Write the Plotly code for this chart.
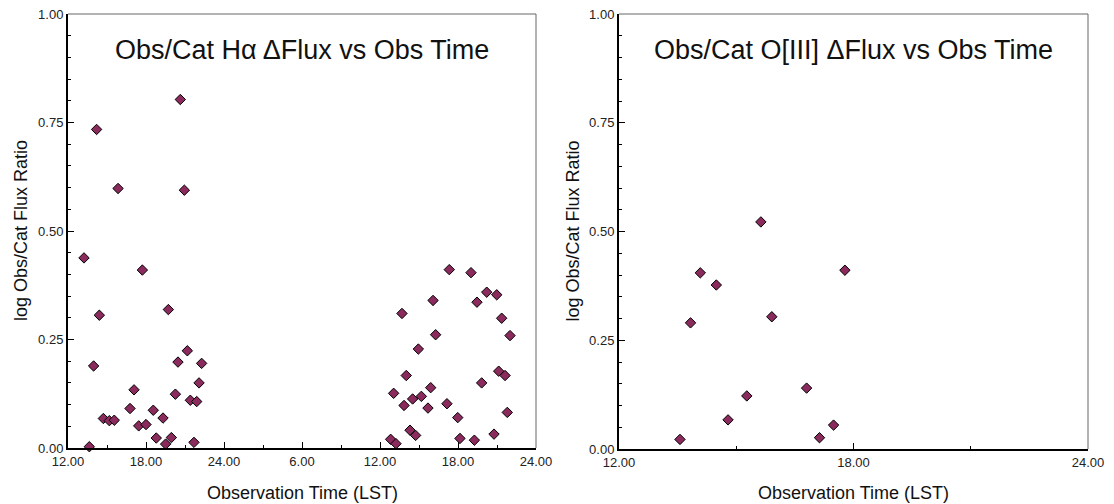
import plotly.graph_objects as go

# Left panel: H-alpha, observation time in hours over two nights (12..48 -> 12:00 day1 .. 24:00 day2)
ha_time = [14.2, 20.64, 15.85, 20.95, 13.23, 17.72, 19.72, 14.41, 21.18, 20.46,
           22.28, 13.97, 22.08, 17.08, 20.26, 21.41, 21.9, 16.77, 18.56, 14.72,
           19.31, 15.18, 15.56, 17.44, 18.0, 18.79, 19.95, 19.51, 21.69, 13.64,
           41.33, 43.0, 44.21, 44.98, 40.08, 43.46, 37.69, 45.36, 40.28, 46.0,
           38.95, 38.02, 45.13, 45.62, 43.82, 39.9, 37.05, 39.18, 38.51, 37.85,
           39.69, 41.15, 45.79, 41.98, 38.31, 38.74, 44.77, 36.82, 37.23, 42.15,
           43.26]
ha_ratio = [0.734, 0.803, 0.598, 0.594, 0.438, 0.410, 0.319, 0.306, 0.224, 0.198,
            0.195, 0.189, 0.150, 0.134, 0.124, 0.110, 0.107, 0.091, 0.087, 0.068,
            0.069, 0.063, 0.064, 0.051, 0.054, 0.023, 0.024, 0.009, 0.013, 0.003,
            0.411, 0.404, 0.359, 0.353, 0.340, 0.336, 0.310, 0.299, 0.261, 0.259,
            0.228, 0.167, 0.177, 0.167, 0.150, 0.139, 0.126, 0.119, 0.113, 0.098,
            0.092, 0.102, 0.082, 0.070, 0.041, 0.029, 0.032, 0.020, 0.010, 0.022,
            0.018]

# Right panel: O[III]
o3_time = [15.63, 14.08, 14.49, 13.83, 15.91, 16.8, 15.27, 14.79, 17.49, 17.13, 13.56, 17.78]
o3_ratio = [0.522, 0.405, 0.377, 0.290, 0.304, 0.140, 0.122, 0.067, 0.055, 0.026, 0.022, 0.411]

left_tickvals = [12, 18, 24, 30, 36, 42, 48]
left_ticktext = ["12.00", "18.00", "24.00", "6.00", "12.00", "18.00", "24.00"]
right_tickvals = [12, 18, 24]
right_ticktext = ["12.00", "18.00", "24.00"]
y_tickvals = [0, 0.25, 0.5, 0.75, 1.0]
y_ticktext = ["0.00", "0.25", "0.50", "0.75", "1.00"]

titles = ["Obs/Cat H\u03b1 \u0394Flux vs Obs Time", "Obs/Cat O[III] \u0394Flux vs Obs Time"]
x_title = "Observation Time (LST)"
y_title = "log Obs/Cat Flux Ratio"

FONT = "Arial, Liberation Sans, Helvetica, sans-serif"
MCOLOR = "#8B2A5C"

fig = go.Figure()
fig.add_trace(go.Scatter(x=ha_time, y=ha_ratio, mode="markers", xaxis="x", yaxis="y",
                         marker=dict(symbol="diamond", size=8, color=MCOLOR,
                                     line=dict(color="black", width=1)),
                         cliponaxis=False, showlegend=False))
fig.add_trace(go.Scatter(x=o3_time, y=o3_ratio, mode="markers", xaxis="x2", yaxis="y2",
                         marker=dict(symbol="diamond", size=8, color=MCOLOR,
                                     line=dict(color="black", width=1)),
                         cliponaxis=False, showlegend=False))

W, H = 1114, 504
xd1 = [68 / W, 536 / W]
xd2 = [619 / W, 1088 / W]
yd1 = [1 - 448 / H, 1 - 14 / H]
yd2 = [1 - 449 / H, 1 - 14 / H]

def xaxis(domain, tv, tt, rng, anchor):
    return dict(domain=domain, range=rng, tickvals=tv, ticktext=tt, anchor=anchor, automargin=False,
                showline=True, linecolor="black", linewidth=2, showgrid=False, zeroline=False,
                ticks="inside", ticklen=6, tickwidth=1, tickcolor="black",
                minor=dict(dtick=3, tick0=12, ticks="inside", ticklen=3, tickcolor="black", showgrid=False),
                tickfont=dict(family=FONT, size=13, color="#222"))

def yaxis(domain, anchor):
    return dict(domain=domain, range=[0, 1], tickvals=y_tickvals, ticktext=y_ticktext, anchor=anchor,
                automargin=False,
                showline=True, linecolor="black", linewidth=2, showgrid=False, zeroline=False,
                ticks="inside", ticklen=6, tickwidth=1, tickcolor="black",
                minor=dict(dtick=0.05, ticks="inside", ticklen=3, tickcolor="black", showgrid=False),
                tickfont=dict(family=FONT, size=13, color="#222"))

fig.update_layout(
    width=W, height=H,
    margin=dict(l=0, r=0, t=0, b=0),
    paper_bgcolor="white", plot_bgcolor="white",
    xaxis=xaxis(xd1, left_tickvals, left_ticktext, [12, 48], "y"),
    yaxis=yaxis(yd1, "x"),
    xaxis2=xaxis(xd2, right_tickvals, right_ticktext, [12, 24], "y2"),
    yaxis2=yaxis(yd2, "x2"),
)

# gray frame on top and right
for xr, yr in (("x", "y"), ("x2", "y2")):
    fig.add_shape(type="line", xref=f"{xr} domain", yref=f"{yr} domain", x0=0, x1=1, y0=1, y1=1,
                  line=dict(color="#666", width=1))
    fig.add_shape(type="line", xref=f"{xr} domain", yref=f"{yr} domain", x0=1, x1=1, y0=0, y1=1,
                  line=dict(color="#666", width=1))

ytitle_x = [21 / W, 572 / W]
for i, (xr, yr) in enumerate((("x", "y"), ("x2", "y2"))):
    fig.add_annotation(text=titles[i], xref=f"{xr} domain", yref="paper", x=0.5, y=1 - 50 / H,
                       xanchor="center", yanchor="middle", showarrow=False,
                       font=dict(family=FONT, size=27, color="#111"))
    fig.add_annotation(text=x_title, xref=f"{xr} domain", yref="paper", x=0.5, y=1 - 493 / H,
                       xanchor="center", yanchor="middle", showarrow=False,
                       font=dict(family=FONT, size=18, color="#111"))
    fig.add_annotation(text=y_title, xref="paper", yref=f"{yr} domain", x=ytitle_x[i], y=0.5,
                       xanchor="center", yanchor="middle", showarrow=False, textangle=-90,
                       font=dict(family=FONT, size=18, color="#111"))

fig.write_html("out.html", config={"displayModeBar": False},
               post_script="document.body.style.margin='0';document.body.style.overflow='hidden';")
